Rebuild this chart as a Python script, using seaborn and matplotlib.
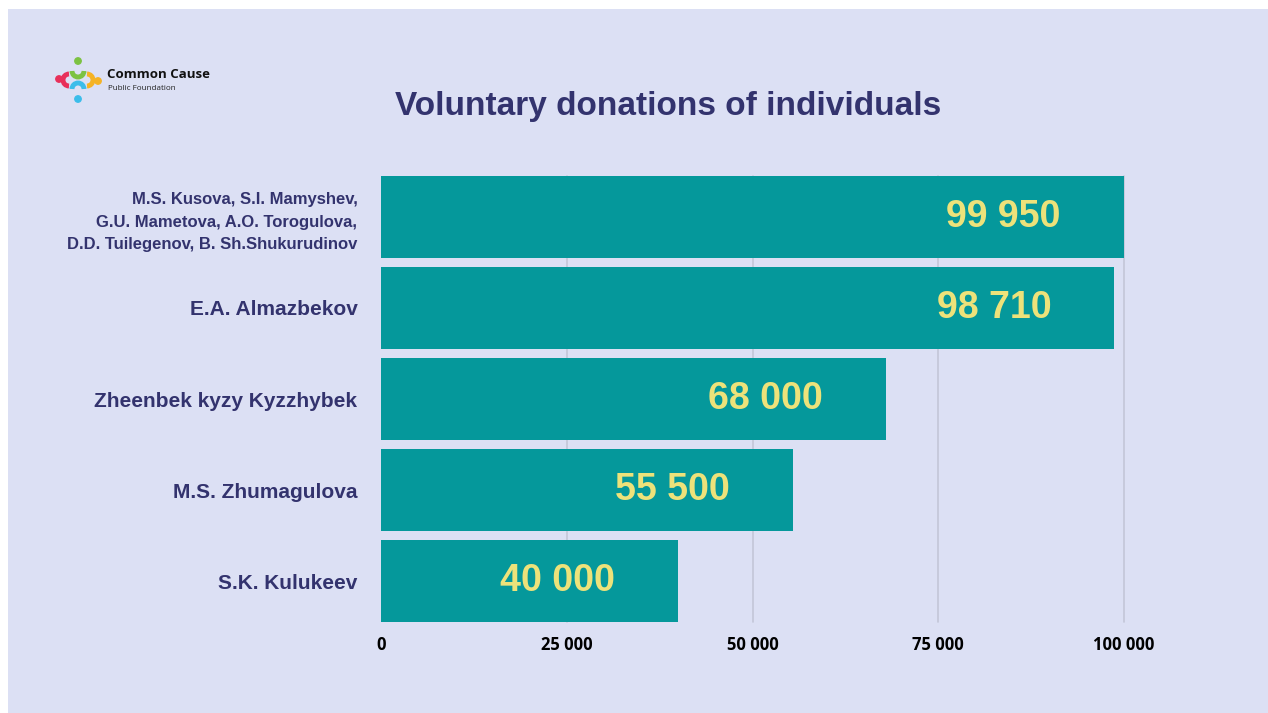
import matplotlib
matplotlib.use("Agg")
import matplotlib.pyplot as plt
import seaborn as sns
import pandas as pd
from matplotlib.patches import Rectangle, Circle, Arc

names = [
    "M.S. Kusova, S.I. Mamyshev,\nG.U. Mametova, A.O. Torogulova,\nD.D. Tuilegenov, B. Sh.Shukurudinov",
    "E.A. Almazbekov",
    "Zheenbek kyzy Kyzzhybek",
    "M.S. Zhumagulova",
    "S.K. Kulukeev",
]
values = [99950, 98710, 68000, 55500, 40000]
value_labels = ["99 950", "98 710", "68 000", "55 500", "40 000"]
xticks = [0, 25000, 50000, 75000, 100000]
xtick_labels = ["0", "25 000", "50 000", "75 000", "100 000"]
title = "Voluntary donations of individuals"

BG = "#DCE0F4"
BAR = "#05989B"
NAVY = "#33336E"
YELLOW = "#EDE27A"

sns.set_theme(style="white")
plt.rcParams["font.family"] = ["Liberation Sans", "DejaVu Sans"]

W, H = 1268, 713
fig = plt.figure(figsize=(W / 100, H / 100), dpi=100)
fig.patch.set_facecolor("white")
fig.add_artist(Rectangle((8 / W, 0), 1 - 8 / W, 1 - 9 / H, transform=fig.transFigure,
                         facecolor=BG, edgecolor="none", zorder=-10))

ax = fig.add_axes([381 / W, 1 - 622 / H, (1124 - 381) / W, (622 - 176) / H])
ax.set_facecolor("none")

df = pd.DataFrame({"name": names, "value": values})
sns.barplot(data=df, x="value", y="name", color=BAR, width=0.9, saturation=1,
            linewidth=0, ax=ax, zorder=3)
ax.set_xlim(0, 100000)
ax.set_ylim(4.45, -0.45)
ax.set_xlabel("")
ax.set_ylabel("")
for s in ax.spines.values():
    s.set_visible(False)

ax.set_xticks(xticks)
ax.set_xticklabels(xtick_labels, fontfamily="Open Sans", fontweight="bold",
                   fontsize=12, color="black")
ax.xaxis.grid(True, color="#C3C6D8", linewidth=1.2, zorder=0)
gls = ax.get_xgridlines()
for gl in gls:
    gl.set_clip_on(False)
gls[0].set_visible(False)
ax.set_axisbelow(True)
ax.tick_params(axis="x", length=0, pad=10)
ax.tick_params(axis="y", length=0, pad=17)

for i, lbl in enumerate(ax.get_yticklabels()):
    lbl.set_color(NAVY)
    lbl.set_fontweight("bold")
    if i == 0:
        lbl.set_fontsize(12)
        lbl.set_linespacing(1.6)
    else:
        lbl.set_fontsize(15)

for i, (v, t) in enumerate(zip(values, value_labels)):
    ax.text(v - 8500, i, t, ha="right", va="center", fontsize=27,
            fontweight="bold", color=YELLOW, zorder=5)

fig.text(668 / W, 1 - 106 / H, title, ha="center", va="center", fontsize=24,
         fontweight="bold", color=NAVY)

# logo
lax = fig.add_axes([50 / W, 1 - 110 / H, 60 / W, 60 / H])
lax.set_xlim(50, 110)
lax.set_ylim(110, 50)
lax.axis("off")
lax.add_patch(Circle((78, 61), 3.2, color="#7CC242"))
lax.add_patch(Circle((59, 79), 3.2, color="#E8305A"))
lax.add_patch(Circle((98, 81), 3.2, color="#F5B324"))
lax.add_patch(Circle((78, 99), 3.2, color="#3BBDEA"))
lax.add_patch(Arc((78, 71), 12, 12, theta1=0, theta2=180, color="#7CC242", lw=3.5))
lax.add_patch(Arc((69, 80), 12, 12, theta1=90, theta2=270, color="#E8305A", lw=3.5))
lax.add_patch(Arc((87, 80), 12, 12, theta1=-90, theta2=90, color="#F5B324", lw=3.5))
lax.add_patch(Arc((78, 89), 12, 12, theta1=180, theta2=360, color="#3BBDEA", lw=3.5))
fig.text(107 / W, 1 - 75 / H, "Common Cause", ha="left", va="center", fontsize=9.5,
         fontweight="bold", color="#111111", fontfamily="Open Sans")
fig.text(108 / W, 1 - 88 / H, "Public Foundation", ha="left", va="center", fontsize=5.8,
         color="#222222", fontfamily="Open Sans")

fig.savefig("out.png", dpi=100, facecolor=fig.get_facecolor())
